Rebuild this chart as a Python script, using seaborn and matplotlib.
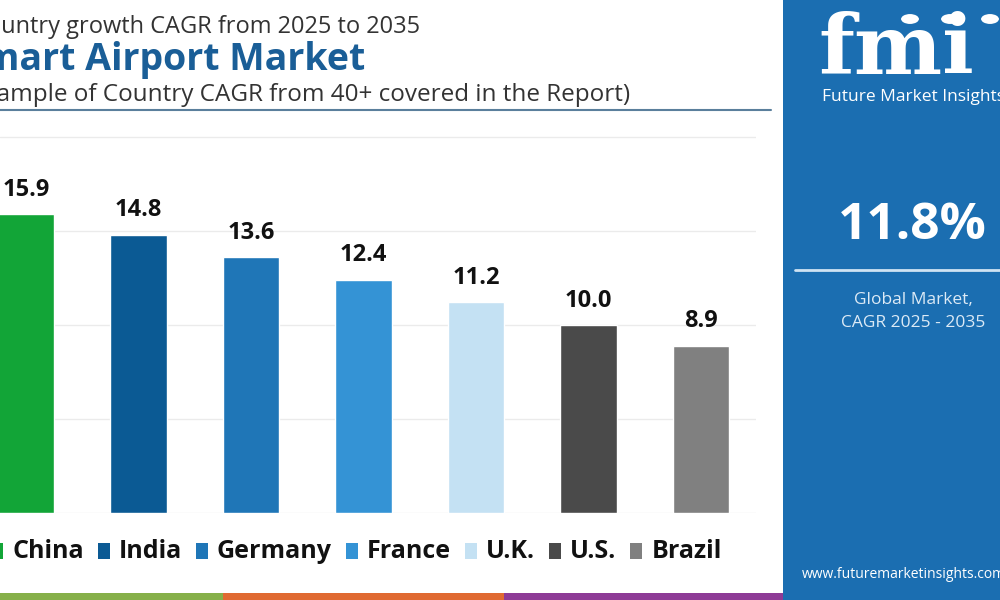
import matplotlib
matplotlib.use("Agg")
import matplotlib.pyplot as plt
import seaborn as sns
from matplotlib.patches import Rectangle, Circle

# Country CAGR values (2025-2035)
countries = ["China", "India", "Germany", "France", "U.K.", "U.S.", "Brazil"]
cagr = [15.9, 14.8, 13.6, 12.4, 11.2, 10.0, 8.9]
bar_colors = ["#12a537", "#0b5a94", "#1f76b7", "#3493d5", "#c4e1f3", "#4a4a4a", "#808080"]

global_cagr = "11.8%"

sns.set_style("white")
plt.rcParams['font.family'] = ['Open Sans', 'DejaVu Sans']

W, H = 1000, 600
fig = plt.figure(figsize=(10, 6), dpi=100)
fig.patch.set_facecolor("white")

def fx(px):
    return px / W

def fy(py):
    return 1 - py / H

# Bar chart area
ax = fig.add_axes([0, 0.145, 0.756, 0.6423])
sns.barplot(x=countries, y=cagr, hue=countries, palette=bar_colors,
            width=0.5, saturation=1, legend=False, ax=ax)
ax.set_xlim(-0.231, 6.49)
ax.set_ylim(0, 20.5)
ax.set_yticks([0, 5, 10, 15, 20])
ax.yaxis.grid(True, color="#ebebeb", linewidth=1)
ax.set_axisbelow(True)
ax.set_xticks([])
ax.set_yticklabels([])
ax.tick_params(left=False, bottom=False)
ax.set_xlabel("")
ax.set_ylabel("")
sns.despine(ax=ax, left=True, bottom=True)

for cont in ax.containers:
    ax.bar_label(cont, fmt="%.1f", padding=9, fontsize=17,
                 fontweight="bold", color="#111111")

# Titles (the left side is cropped in the reference)
fig.text(fx(-28), fy(27), "Country growth CAGR from 2025 to 2035",
         fontsize=17, color="#333333", va="center", ha="left")
fig.text(fx(-38), fy(60), "Smart Airport Market",
         fontsize=27, fontweight="bold", color="#1a5e97", va="center", ha="left")
fig.text(fx(-24), fy(95), "(Sample of Country CAGR from 40+ covered in the Report)",
         fontsize=17.5, color="#333333", va="center", ha="left")
fig.add_artist(plt.Line2D([0, fx(771)], [fy(110), fy(110)], color="#5a7f9c",
                          linewidth=1.5, transform=fig.transFigure))

# Legend drawn as squares + labels
fig.canvas.draw()
renderer = fig.canvas.get_renderer()
x = -9
ly = 551
for name, col in zip(countries, bar_colors):
    fig.add_artist(Rectangle((fx(x), fy(ly + 8)), fx(12), 16 / H,
                             facecolor=col, edgecolor="none",
                             transform=fig.transFigure))
    t = fig.text(fx(x + 21), fy(ly), name, fontsize=18, fontweight="bold",
                 color="#111111", va="center", ha="left")
    bb = t.get_window_extent(renderer=renderer)
    x = x + 21 + bb.width + 14

# Bottom colour strip
for x0, x1, c in [(0, 223, "#86b04a"), (223, 504, "#e06a32"), (504, 783, "#8e3b96")]:
    fig.add_artist(Rectangle((fx(x0), 0), fx(x1 - x0), 7 / H,
                             facecolor=c, edgecolor="none",
                             transform=fig.transFigure))

# Right side panel
fig.add_artist(Rectangle((fx(783), 0), fx(W - 783), 1,
                         facecolor="#1b6eb1", edgecolor="none",
                         transform=fig.transFigure))
fig.text(fx(818), fy(74), "fmi", fontsize=60, fontweight="bold",
         family="DejaVu Serif", color="white", va="baseline", ha="left")
for cx in [910, 950, 990]:
    fig.add_artist(Circle((fx(cx), fy(19)), fx(10), facecolor="white",
                          edgecolor="#1b6eb1", linewidth=1.5,
                          transform=fig.transFigure))
fig.text(fx(822), fy(97), "Future Market Insights", fontsize=12.5,
         color="white", va="center", ha="left")
fig.text(fx(912), fy(226), global_cagr, fontsize=37, fontweight="bold",
         color="white", va="center", ha="center")
fig.add_artist(plt.Line2D([fx(795), 1], [fy(270), fy(270)], color="#cfe3f3",
                          linewidth=2, transform=fig.transFigure))
fig.text(fx(913), fy(300), "Global Market,", fontsize=12.5,
         color="#dceaf6", va="center", ha="center")
fig.text(fx(913), fy(323), "CAGR 2025 - 2035", fontsize=12.5,
         color="#dceaf6", va="center", ha="center")
fig.text(fx(802), fy(575), "www.futuremarketinsights.com", fontsize=10,
         color="white", va="center", ha="left")

fig.savefig("out.png", dpi=100)
